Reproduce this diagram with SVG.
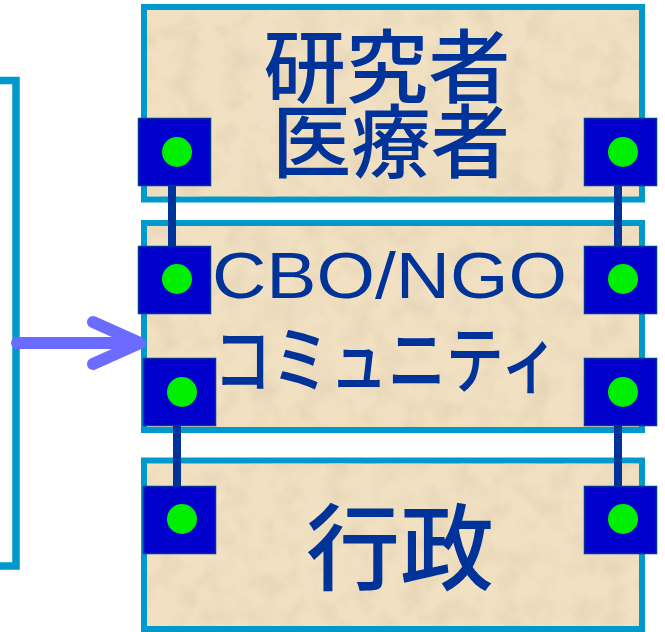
<svg xmlns="http://www.w3.org/2000/svg" width="665" height="632" viewBox="0 0 665 632">
<defs>
<filter id="paper" x="0" y="0" width="100%" height="100%">
<feTurbulence type="fractalNoise" baseFrequency="0.04" numOctaves="3" seed="4" result="n"/>
<feColorMatrix in="n" type="matrix" values="0 0 0 0 0.80  0 0 0 0 0.68  0 0 0 0 0.48  0 0 0 2.2 -0.85"/>
<feComposite in2="SourceGraphic" operator="in"/>
</filter>
<style>
.box{fill:#F1E1C2;stroke:#0099CC;stroke-width:6}
.tex{fill:#fff;filter:url(#paper)}
.sq{fill:#0000CC;stroke:#003399;stroke-width:1.5}
.dot{fill:#00EE00}
.lbl{fill:#003399;font-family:"Noto Sans CJK JP","Liberation Sans",sans-serif;text-anchor:middle;font-weight:500}
.link{stroke:#003399;stroke-width:8;fill:none}
</style>
</defs>
<rect width="665" height="632" fill="#fff"/>
<g id="bracket">
<path d="M0 80.5 H16 V566 H0" fill="none" stroke="#0099CC" stroke-width="7.5"/>
</g>
<g id="box1">
<rect class="box" x="144" y="7" width="498" height="192.5"/>
<rect class="tex" x="147" y="10" width="492" height="186.5"/>
<text class="lbl" x="387" y="96" font-size="80" textLength="247" lengthAdjust="spacingAndGlyphs">研究者</text>
<text class="lbl" x="391" y="171" font-size="80" textLength="238" lengthAdjust="spacingAndGlyphs">医療者</text>
</g>
<g id="box2">
<rect class="box" x="144" y="223" width="498" height="207"/>
<rect class="tex" x="147" y="226" width="492" height="201"/>
<text class="lbl" x="389.5" y="298" font-size="64" textLength="355" lengthAdjust="spacingAndGlyphs" style="font-family:'Liberation Sans',sans-serif;font-weight:400">CBO/NGO</text>
<text class="lbl" x="386" y="387" font-size="74" textLength="345" lengthAdjust="spacingAndGlyphs">コミュニティ</text>
</g>
<g id="box3">
<rect class="box" x="144" y="460.5" width="498" height="168.5"/>
<rect class="tex" x="147" y="463.5" width="492" height="162.5"/>
<text class="lbl" x="400" y="583" font-size="94">行政</text>
</g>
<g id="connectors">
<line class="link" x1="172" y1="185" x2="172" y2="247"/>
<line class="link" x1="618" y1="185" x2="618" y2="247"/>
<line class="link" x1="177" y1="425" x2="177" y2="487"/>
<line class="link" x1="618" y1="425" x2="618" y2="487"/>
<path d="M17 343 H138 M93 322 L140 343 L93 364" fill="none" stroke="#6B6BFF" stroke-width="12" stroke-linecap="round" stroke-linejoin="round"/>
</g>
<g id="port-l1"><rect class="sq" x="138.5" y="118.5" width="72" height="67"/><circle class="dot" cx="177" cy="152" r="15"/></g>
<g id="port-l2"><rect class="sq" x="138.5" y="246.5" width="72" height="67"/><circle class="dot" cx="177" cy="279" r="15"/></g>
<g id="port-l3"><rect class="sq" x="143.5" y="358.5" width="72" height="67"/><circle class="dot" cx="182" cy="392" r="15"/></g>
<g id="port-l4"><rect class="sq" x="143.5" y="486.5" width="72" height="67"/><circle class="dot" cx="182" cy="519" r="15"/></g>
<g id="port-r1"><rect class="sq" x="584.5" y="118.5" width="72" height="67"/><circle class="dot" cx="623" cy="152" r="15"/></g>
<g id="port-r2"><rect class="sq" x="584.5" y="246.5" width="72" height="67"/><circle class="dot" cx="623" cy="279" r="15"/></g>
<g id="port-r3"><rect class="sq" x="584.5" y="358.5" width="72" height="67"/><circle class="dot" cx="623" cy="392" r="15"/></g>
<g id="port-r4"><rect class="sq" x="584.5" y="486.5" width="72" height="67"/><circle class="dot" cx="623" cy="519" r="15"/></g>
</svg>
